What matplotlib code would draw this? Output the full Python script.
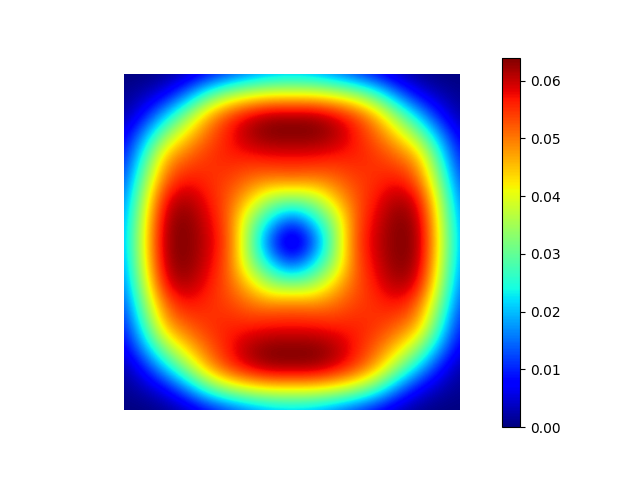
import numpy as np
import matplotlib
matplotlib.use('Agg')
import matplotlib.pyplot as plt
from matplotlib.patches import Rectangle

quarter = np.array([
    [0.000, 0.000, 0.001, 0.003, 0.007, 0.011, 0.015, 0.018, 0.019],
    [0.001, 0.003, 0.007, 0.016, 0.028, 0.036, 0.040, 0.042, 0.042],
    [0.002, 0.009, 0.021, 0.034, 0.047, 0.055, 0.060, 0.063, 0.063],
    [0.006, 0.019, 0.035, 0.045, 0.052, 0.057, 0.062, 0.064, 0.064],
    [0.009, 0.027, 0.047, 0.052, 0.055, 0.056, 0.056, 0.057, 0.057],
    [0.012, 0.033, 0.052, 0.057, 0.055, 0.054, 0.051, 0.050, 0.051],
    [0.015, 0.038, 0.059, 0.062, 0.057, 0.052, 0.044, 0.034, 0.032],
    [0.017, 0.041, 0.062, 0.064, 0.059, 0.052, 0.034, 0.021, 0.011],
    [0.018, 0.042, 0.063, 0.064, 0.060, 0.053, 0.032, 0.011, 0.000],
])
vmin = 0.0
vmax = 0.064

upper = np.hstack([quarter, quarter[:, -2::-1]])
field = np.vstack([upper, upper[-2::-1, :]])
n = field.shape[0] - 1

fig, ax = plt.subplots(figsize=(6.4, 4.8), dpi=100)
im = ax.imshow(field, cmap='jet', vmin=vmin, vmax=vmax, origin='upper',
               interpolation='bicubic', extent=(-0.5, n + 0.5, n + 0.5, -0.5))
im.set_clip_path(Rectangle((0, 0), n, n, transform=ax.transData))
ax.set_xlim(-0.05 * n, 1.05 * n)
ax.set_ylim(1.05 * n, -0.05 * n)
ax.axis('off')
fig.colorbar(im, ax=ax)
fig.savefig('out.png', dpi=100)
